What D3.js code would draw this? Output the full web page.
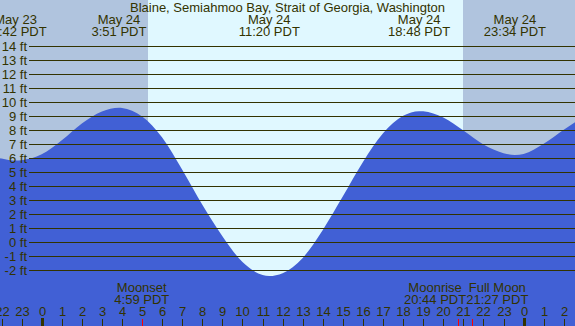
<!DOCTYPE html>
<html><head><meta charset="utf-8">
<script src="https://cdn.jsdelivr.net/npm/d3@7"></script>
<style>
html,body{margin:0;padding:0;background:#fff;overflow:hidden;}
svg{display:block;}
text{font-family:"Liberation Sans",Arial,Helvetica,sans-serif;font-size:13px;fill:#333300;}
</style>
</head><body><svg id="c" width="575" height="326"></svg>
<script>
const title = "Blaine, Semiahmoo Bay, Strait of Georgia, Washington";

// tide series (PDT)
const tideTimes = [
  "2013-05-23 21:00","2013-05-23 22:00","2013-05-23 22:42","2013-05-23 23:00",
  "2013-05-24 00:00","2013-05-24 01:00","2013-05-24 02:00","2013-05-24 03:00","2013-05-24 03:51",
  "2013-05-24 04:00","2013-05-24 05:00","2013-05-24 06:00","2013-05-24 07:00","2013-05-24 08:00",
  "2013-05-24 09:00","2013-05-24 10:00","2013-05-24 11:00","2013-05-24 11:20","2013-05-24 12:00",
  "2013-05-24 13:00","2013-05-24 14:00","2013-05-24 15:00","2013-05-24 16:00","2013-05-24 17:00",
  "2013-05-24 18:00","2013-05-24 18:48","2013-05-24 19:00","2013-05-24 20:00","2013-05-24 21:00",
  "2013-05-24 22:00","2013-05-24 23:00","2013-05-24 23:34","2013-05-25 00:00","2013-05-25 01:00",
  "2013-05-25 02:00","2013-05-25 03:00"
];
const tideHeights = [
  6.45, 6.0, 5.85, 5.88,
  6.3, 7.3, 8.5, 9.35, 9.62,
  9.61, 9.0, 7.5, 5.2, 2.7,
  0.45, -1.4, -2.32, -2.4, -2.2,
  -1.1, 0.9, 3.3, 5.75, 7.8,
  9.05, 9.38, 9.37, 8.92, 8.0,
  7.0, 6.38, 6.25, 6.32, 7.05,
  8.05, 9.0
];

// high / low tide labels
const extremeTimes = ["2013-05-23 22:42","2013-05-24 03:51","2013-05-24 11:20","2013-05-24 18:48","2013-05-24 23:34"];
const extremeDays  = ["May 23","May 24","May 24","May 24","May 24"];
const extremeClock = ["22:42 PDT","3:51 PDT","11:20 PDT","18:48 PDT","23:34 PDT"];

// sun
const sunriseTime = "2013-05-24 05:18";
const sunsetTime  = "2013-05-24 20:58";

// moon events
const moonNames = ["Moonset","Moonrise","Full Moon"];
const moonTimes = ["2013-05-24 04:59","2013-05-24 20:44","2013-05-24 21:27"];
const moonClock = ["4:59 PDT","20:44 PDT","21:27 PDT"];

// axes
const heightTicks = [-2,-1,0,1,2,3,4,5,6,7,8,9,10,11,12,13,14];
const hourStart = "2013-05-23 22:00", hourEnd = "2013-05-25 03:00";

const W = 575, H = 326;
const parse = d3.utcParse("%Y-%m-%d %H:%M");
const svg = d3.select("#c");

const x = d3.scaleUtc()
  .domain([parse("2013-05-24 00:00"), parse("2013-05-25 00:00")])
  .range([41.7, 523.6]);
const xAxisScale = x.copy().interpolate(d3.interpolateRound);
const y = d3.scaleLinear().domain([0, 14]).range([242, 46]);

const colNight = "#b0c4de", colDay = "#e0f8ff", colWater = "#4160d5", ink = "#333300";

// background
const xr = Math.round(x(parse(sunriseTime))), xs = Math.round(x(parse(sunsetTime)));
svg.append("rect").attr("x",0).attr("y",0).attr("width",xr).attr("height",H).attr("fill",colNight);
svg.append("rect").attr("x",xr).attr("y",0).attr("width",xs-xr).attr("height",H).attr("fill",colDay);
svg.append("rect").attr("x",xs).attr("y",0).attr("width",W-xs).attr("height",H).attr("fill",colNight);

// water
const tide = tideTimes.map((t,i)=>({t:parse(t), v:tideHeights[i]}));
const area = d3.area().x(d=>x(d.t)).y0(H).y1(d=>y(d.v)+0.5).curve(d3.curveMonotoneX);
svg.append("path").datum(tide).attr("d",area).attr("fill",colWater);

// height grid + labels
const gy = svg.append("g").attr("transform","translate(29,0)")
  .call(d3.axisLeft(y).tickValues(heightTicks).tickSizeInner(-(W-29)).tickSizeOuter(0)
        .tickPadding(2).tickFormat(d=>d+" ft"));
gy.select(".domain").remove();
gy.attr("font-family",null).attr("font-size",null);
gy.selectAll(".tick line").attr("stroke",ink).attr("stroke-width",1);
gy.selectAll(".tick text").attr("fill",ink).attr("dy","0.34em");

// hour axis
const hours = d3.utcHour.range(parse(hourStart), parse(hourEnd));
const gx = svg.append("g").attr("transform",`translate(0,${H})`)
  .call(d3.axisTop(xAxisScale).tickValues(hours).tickSizeInner(7).tickSizeOuter(0).tickPadding(2.7)
        .tickFormat(d3.utcFormat("%-H")));
gx.select(".domain").remove();
gx.attr("font-family",null).attr("font-size",null);
gx.selectAll(".tick text").attr("fill",ink);
gx.selectAll(".tick line").attr("stroke",ink)
  .attr("stroke-width",d=>d.getUTCHours()===0?3:1)
  .attr("y2",d=>d.getUTCHours()===0?-8:-7);

// moon event ticks
const moon = moonTimes.map((t,i)=>({t:parse(t), name:moonNames[i], clock:moonClock[i]}));
svg.append("g").selectAll("line").data(moon).join("line")
  .attr("x1",d=>Math.round(x(d.t))+0.5).attr("x2",d=>Math.round(x(d.t))+0.5)
  .attr("y1",H-7).attr("y2",H)
  .attr("stroke","#ff0000").attr("stroke-width",1);

// moon labels with simple overlap avoidance
const mg = svg.append("g");
const mlabels = moon.map(d=>{
  const g = mg.append("g");
  const t = g.append("text").attr("text-anchor","middle");
  t.append("tspan").attr("x",0).attr("y",292).text(d.name);
  t.append("tspan").attr("x",0).attr("y",304).text(d.clock);
  const w = t.node().getBBox().width;
  return {g, w, cx:x(d.t)};
});
for (let it=0; it<10; it++) {
  for (let i=0;i<mlabels.length-1;i++){
    const a=mlabels[i], b=mlabels[i+1];
    const need=(a.w+b.w)/2 - (b.cx-a.cx);
    if (need>0){ a.cx-=need/2 - 1; b.cx+=need/2 + 1; }
  }
}
mlabels.forEach(m=>m.g.attr("transform",`translate(${m.cx},0)`));

// tide extreme labels
const ext = extremeTimes.map((t,i)=>({t:parse(t), day:extremeDays[i], clock:extremeClock[i]}));
const et = svg.append("g").selectAll("text").data(ext).join("text")
  .attr("text-anchor","middle");
et.append("tspan").attr("x",d=>x(d.t)).attr("y",24).text(d=>d.day);
et.append("tspan").attr("x",d=>x(d.t)).attr("y",36).text(d=>d.clock);

// title
svg.append("text").attr("x",W/2).attr("y",12).attr("text-anchor","middle").text(title);
</script>
</body></html>
